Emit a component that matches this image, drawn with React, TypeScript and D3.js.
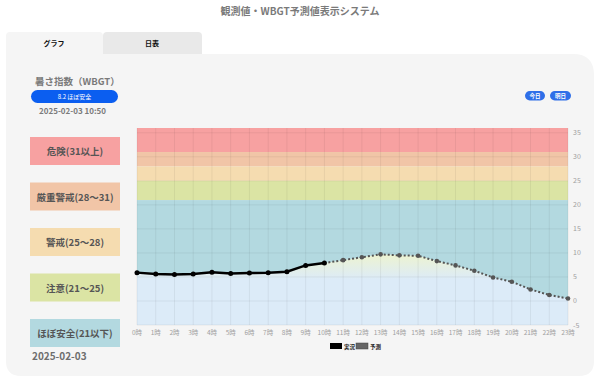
import * as d3 from "d3";

const FONT = "'Noto Sans CJK JP', 'Noto Sans', sans-serif";

// x categories (hours)
const hourLabels = ["0時", "1時", "2時", "3時", "4時", "5時", "6時", "7時", "8時", "9時", "10時", "11時",
  "12時", "13時", "14時", "15時", "16時", "17時", "18時", "19時", "20時", "21時", "22時", "23時"];

// 実況 (observed) 0時〜10時
const observedHours = ["0時", "1時", "2時", "3時", "4時", "5時", "6時", "7時", "8時", "9時", "10時"];
const observedValues = [5.9, 5.6, 5.5, 5.6, 6.0, 5.7, 5.8, 5.9, 6.1, 7.4, 7.9];

// 予測 (forecast) 10時〜23時
const forecastHours = ["10時", "11時", "12時", "13時", "14時", "15時", "16時", "17時", "18時", "19時", "20時", "21時", "22時", "23時"];
const forecastValues = [7.9, 8.5, 9.1, 9.7, 9.5, 9.4, 8.3, 7.4, 6.3, 4.9, 4.0, 2.4, 1.25, 0.5];

const yTicks = [-5, 0, 5, 10, 15, 20, 25, 30, 35];

// WBGT levels
const levelNames = ["危険(31以上)", "厳重警戒(28〜31)", "警戒(25〜28)", "注意(21〜25)", "ほぼ安全(21以下)"];
const levelLow = [31, 28, 25, 21, -5];
const levelHigh = [36, 31, 28, 25, 21];
const levelColors = ["#f7a1a1", "#f1c5a7", "#f5dcb0", "#dbe4a4", "#b3d9e0"];

export default function App() {
  const x = d3.scalePoint<string>().domain(hourLabels).range([137, 568]);
  const y = d3.scaleLinear().domain([-5, 36]).range([325, 128]);
  const x0 = 137, x1 = 568;

  type P = { h: string; v: number };
  const obs: P[] = observedHours.map((h, i) => ({ h, v: observedValues[i] }));
  const fc: P[] = forecastHours.map((h, i) => ({ h, v: forecastValues[i] }));
  const all: P[] = [...obs, ...fc.slice(1)];

  const line = d3.line<P>().x(d => x(d.h)!).y(d => y(d.v));
  const area = d3.area<P>().x(d => x(d.h)!).y0(y(-5)).y1(d => y(d.v));

  return (
    <svg width={600} height={382} style={{ position: "absolute", left: 0, top: 0, fontFamily: FONT }}>
      <defs>
        <linearGradient id="areaGrad" gradientUnits="userSpaceOnUse" x1="0" x2="0" y1={y(10)} y2={y(4.5)}>
          <stop offset="0" stopColor="#eef4cf" />
          <stop offset="1" stopColor="#dcebf8" />
        </linearGradient>
      </defs>
      <rect width={600} height={382} fill="#fff" />
      <text x={300} y={15} textAnchor="middle" fontSize={10} fontWeight={700} fill="#7a7a7a">観測値・WBGT予測値表示システム</text>

      {/* tabs */}
      <path d="M6,54 L6,36 Q6,32 10,32 L99,32 Q103,32 103,36 L103,54 Z" fill="#f5f5f5" />
      <path d="M103,54 L103,36 Q103,32 107,32 L198,32 Q202,32 202,36 L202,54 Z" fill="#e9e9e9" />
      <text x={54} y={46} textAnchor="middle" fontSize={7} fontWeight={700} fill="#111">グラフ</text>
      <text x={152} y={46} textAnchor="middle" fontSize={7} fontWeight={700} fill="#111">日表</text>

      {/* panel */}
      <path d="M6,54 L573,54 Q594,54 594,75 L594,361 Q594,376 579,376 L21,376 Q6,376 6,361 Z" fill="#f5f5f5" />

      <text x={35} y={85} fontSize={9.5} fontWeight={700} fill="#7a7a7a">暑さ指数（WBGT）</text>
      <rect x={31} y={90} width={87} height={13} rx={6.5} fill="#0b5ef0" />
      <text x={74.5} y={99} textAnchor="middle" fontSize={6} fill="#fff">8.2 ほぼ安全</text>
      <text x={39} y={114} fontSize={8} fontWeight={700} fill="#7a7a7a">2025-02-03 10:50</text>

      <rect x={525} y={91} width={20} height={9.5} rx={4.75} fill="#2f6fe8" />
      <text x={535} y={98.3} textAnchor="middle" fontSize={5.5} fontWeight={700} fill="#fff">今日</text>
      <rect x={550} y={91} width={21} height={9.5} rx={4.75} fill="#2f6fe8" />
      <text x={560.5} y={98.3} textAnchor="middle" fontSize={5.5} fontWeight={700} fill="#fff">明日</text>

      {/* left legend boxes */}
      {levelNames.map((name, i) => (
        <g key={name} transform={`translate(30,${137 + i * 45.5})`}>
          <rect width={90} height={28} fill={levelColors[i]} />
          <text x={45} y={18} textAnchor="middle" fontSize={9.5} fontWeight={700} fill="#555">{name}</text>
        </g>
      ))}
      <text x={32} y={360} fontSize={10} fontWeight={700} fill="#6e6e6e">2025-02-03</text>

      {/* bands */}
      {levelNames.map((name, i) => (
        <rect key={"b" + name} x={x0} y={y(levelHigh[i])} width={x1 - x0} height={y(levelLow[i]) - y(levelHigh[i])} fill={levelColors[i]} />
      ))}

      {/* area under data */}
      <path d={area(all)!} fill="url(#areaGrad)" />

      {/* grid */}
      {hourLabels.map(h => (
        <line key={"gx" + h} x1={x(h)} x2={x(h)} y1={128} y2={325} stroke="#000" strokeOpacity={0.06} />
      ))}
      {yTicks.map(t => (
        <line key={"gy" + t} x1={x0} x2={x1} y1={y(t)} y2={y(t)} stroke="#000" strokeOpacity={0.06} />
      ))}

      {/* axis labels */}
      {yTicks.map(t => (
        <text key={"ty" + t} x={573} y={y(t) + 2.5} fontSize={7} fill="#a0a0a0">{t}</text>
      ))}
      {hourLabels.map(h => (
        <text key={"tx" + h} x={x(h)} y={335} textAnchor="middle" fontSize={6.5} fill="#a0a0a0">{h}</text>
      ))}

      {/* forecast */}
      <path d={line(fc)!} fill="none" stroke="#555" strokeWidth={2} strokeDasharray="2,2" />
      {fc.slice(1).map(d => (
        <circle key={"f" + d.h} cx={x(d.h)} cy={y(d.v)} r={2.3} fill="#555" />
      ))}

      {/* observed */}
      <path d={line(obs)!} fill="none" stroke="#000" strokeWidth={2.5} />
      {obs.map(d => (
        <circle key={"o" + d.h} cx={x(d.h)} cy={y(d.v)} r={2.5} fill="#000" />
      ))}

      {/* legend */}
      <rect x={330} y={343} width={12} height={6} fill="#000" />
      <text x={344} y={349} fontSize={5.5} fontWeight={700} fill="#222">実況</text>
      <rect x={356} y={343} width={12} height={6} fill="#666" stroke="#444" strokeWidth={0.5} />
      <text x={370} y={349} fontSize={5.5} fontWeight={700} fill="#222">予測</text>
    </svg>
  );
}
